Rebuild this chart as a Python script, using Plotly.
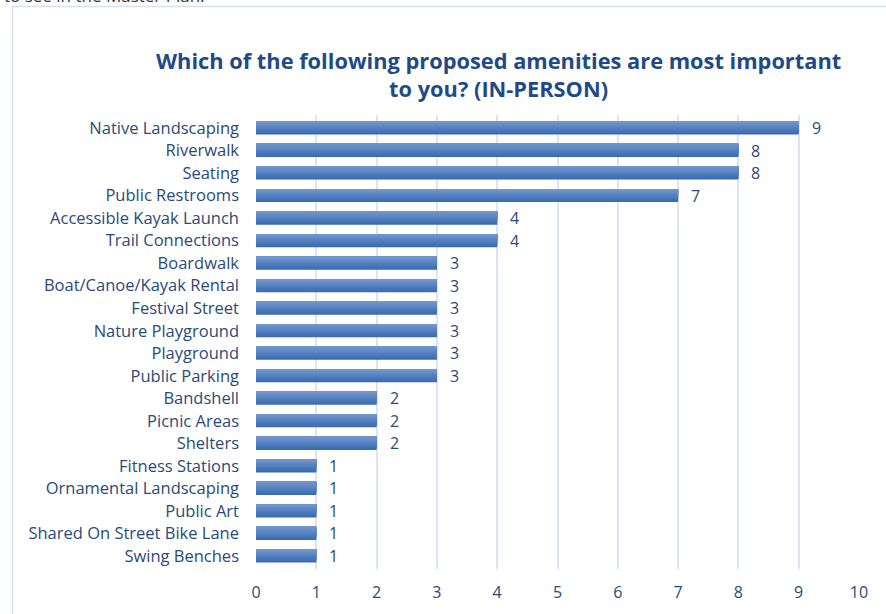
import plotly.graph_objects as go

categories = ["Native Landscaping", "Riverwalk", "Seating", "Public Restrooms",
              "Accessible Kayak Launch", "Trail Connections", "Boardwalk",
              "Boat/Canoe/Kayak Rental", "Festival Street", "Nature Playground",
              "Playground", "Public Parking", "Bandshell", "Picnic Areas", "Shelters",
              "Fitness Stations", "Ornamental Landscaping", "Public Art",
              "Shared On Street Bike Lane", "Swing Benches"]
values = [9, 8, 8, 7, 4, 4, 3, 3, 3, 3, 3, 3, 2, 2, 2, 1, 1, 1, 1, 1]
x_ticks = list(range(0, 11))

TEXT = "#2a4a7b"
FONT = "Open Sans"

L, R, T, B = 256, 27, 115, 45
W, H = 886, 614
pw, ph = W - L - R, H - T - B
def px(p): return (p - L) / pw
def py(p): return (H - B - p) / ph

fig = go.Figure()
# simulated vertical gradient: dark at bottom, light at top
N = 10
dark = (58, 107, 178)
light = (112, 149, 205)
BW = 0.58
for i in range(N):
    t = i / (N - 1)
    col = "rgb(%d,%d,%d)" % tuple(round(d + (l - d) * t) for d, l in zip(dark, light))
    wdt = BW * (1 - i / N)
    fig.add_trace(go.Bar(
        y=categories, x=values, orientation="h",
        marker=dict(color=col, line=dict(width=0)),
        width=wdt, offset=-BW / 2,
        hoverinfo="skip", showlegend=False))

for c, v in zip(categories, values):
    fig.add_annotation(x=v, y=c, text=str(v), showarrow=False, xanchor="left",
                       xshift=11, font=dict(size=16, color=TEXT, family=FONT))

fig.update_layout(
    width=W, height=H, margin=dict(l=L, r=R, t=T, b=B),
    paper_bgcolor="white", plot_bgcolor="white",
    barmode="overlay",
    font=dict(family=FONT, color=TEXT, size=16),
    xaxis=dict(range=[0, 10], tickvals=x_ticks, showgrid=True, gridcolor="#dbe6f3",
               gridwidth=1.5, zeroline=False, showline=False, ticks="",
               tickfont=dict(size=16, color=TEXT), ticklabelstandoff=12),
    yaxis=dict(autorange="reversed", showgrid=False, zeroline=False, showline=False,
               ticks="", tickfont=dict(size=16.5, color=TEXT), ticklabelstandoff=16),
)

fig.add_annotation(xref="paper", yref="paper", x=px(498), y=py(74),
                   text="<b>Which of the following proposed amenities are most important<br>to you? (IN-PERSON)</b>",
                   showarrow=False, xanchor="center", yanchor="middle",
                   font=dict(size=21.8, color="#1f4a87", family=FONT))

fig.add_annotation(xref="paper", yref="paper", x=px(2), y=py(9),
                   text="to see in the Master Plan.", showarrow=False,
                   xanchor="left", yanchor="bottom",
                   font=dict(size=17, color="#333333", family=FONT))

fig.add_shape(type="rect", xref="paper", yref="paper",
              x0=px(12.5), x1=px(900), y0=py(640), y1=py(6.5),
              line=dict(color="#d5e2f0", width=1.5), fillcolor="rgba(0,0,0,0)", layer="below")

fig.write_html("out.html", config={"displayModeBar": False},
               post_script="document.body.style.margin='0px';document.body.style.padding='0px';")
